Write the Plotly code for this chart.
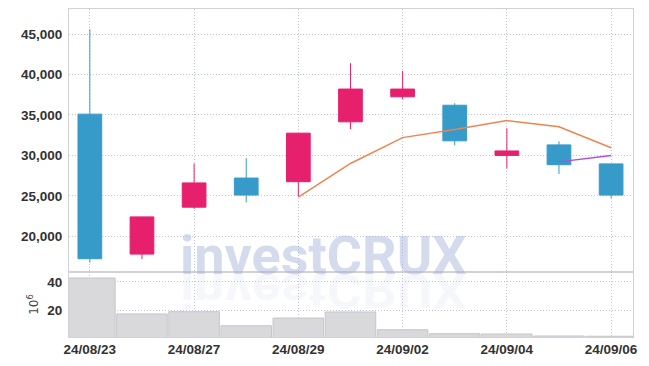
import plotly.graph_objects as go

dates = ['24/08/23', '24/08/26', '24/08/27', '24/08/28', '24/08/29', '24/08/30',
         '24/09/02', '24/09/03', '24/09/04', '24/09/05', '24/09/06']
opens = [35100, 17800, 23600, 27200, 26750, 34150, 37250, 36200, 30000, 31300, 28950]
highs = [45600, 22400, 29000, 29650, 32750, 41400, 40450, 36450, 33350, 31750, 28950]
lows = [16750, 17200, 23400, 24200, 24900, 33250, 36950, 31250, 28400, 27700, 24700]
closes = [17230, 22400, 26600, 25100, 32750, 38200, 38200, 31800, 30550, 28850, 25100]
ma5 = [None, None, None, None, 24850, 29000, 32200, 33200, 34300, 33550, 30950]
ma10 = [None, None, None, None, None, None, None, None, None, 29200, 29980]
volume_m = [42.8, 17.5, 19.1, 9.2, 14.6, 18.9, 6.4, 3.6, 3.4, 2.0, 1.8]
price_ticks = [20000, 25000, 30000, 35000, 40000, 45000]
volume_ticks = [20, 40]
date_ticks = ['24/08/23', '24/08/27', '24/08/29', '24/09/02', '24/09/04', '24/09/06']

UP = '#E7206D'
DOWN = '#379BC9'
GRID = '#BFC6DC'
BORDER = '#D2D2D6'
TICKFONT = dict(family='Liberation Sans, Arial, sans-serif', size=13.5, weight='bold',
                color='#333333')

fig = go.Figure()
fig.add_trace(go.Candlestick(
    x=dates, open=opens, high=highs, low=lows, close=closes,
    xaxis='x', yaxis='y',
    increasing=dict(line=dict(color=UP, width=1), fillcolor=UP),
    decreasing=dict(line=dict(color=DOWN, width=1), fillcolor=DOWN),
    whiskerwidth=0, showlegend=False, name='price'))
fig.add_trace(go.Scatter(x=dates, y=ma5, mode='lines', xaxis='x', yaxis='y',
                         line=dict(color='#EC8550', width=1.5), showlegend=False))
fig.add_trace(go.Scatter(x=dates, y=ma10, mode='lines', xaxis='x', yaxis='y',
                         line=dict(color='#B44BE1', width=1.5), showlegend=False))
fig.add_trace(go.Bar(x=dates, y=volume_m, xaxis='x2', yaxis='y2',
                     marker=dict(color='#D9D9DC', line=dict(color='#C6C6CB', width=1)),
                     showlegend=False))

axis_common = dict(showgrid=True, griddash='1px,2px', gridcolor=GRID, gridwidth=1,
                   showline=True, mirror=True, linecolor=BORDER, linewidth=1,
                   zeroline=False, ticks='', tickfont=TICKFONT)

fig.update_layout(
    width=649, height=366,
    margin=dict(l=61, r=24, t=1, b=37),
    paper_bgcolor='white', plot_bgcolor='white',
    boxgap=0.35, bargap=0.03,
    xaxis=dict(axis_common, type='category', anchor='y', domain=[0, 1],
               range=[-0.4, 10.42], tickvals=date_ticks, showticklabels=False,
               matches='x2', rangeslider=dict(visible=False)),
    yaxis=dict(axis_common, domain=[0.198, 1], range=[15582, 48094],
               tickvals=price_ticks, tickformat=',', ticklabelstandoff=3),
    xaxis2=dict(axis_common, type='category', anchor='y2', domain=[0, 1],
                range=[-0.4, 10.42], tickvals=date_ticks, ticklabelstandoff=0),
    yaxis2=dict(axis_common, domain=[0, 0.198], range=[1.27, 47],
                tickvals=volume_ticks, ticklabelstandoff=3,
                title=dict(text='10<sup>6</sup>', standoff=6,
                           font=dict(family='DejaVu Sans', size=12, color='#444'))),
    annotations=[dict(text='<b>investCRUX</b>', xref='paper', yref='paper',
                      x=0.452, y=0.198, xanchor='center', yanchor='bottom', yshift=-17,
                      showarrow=False,
                      font=dict(family='Roboto', size=54, weight='bold',
                                color='rgba(160,176,214,0.45)'))],
)

post = """
var gd = document.getElementById('{plot_id}');
var ts = gd.querySelectorAll('.annotation-text');
ts.forEach(function(t){
  if (t.textContent === 'investCRUX') {
    var b = t.getStartPositionOfChar(0).y;
    var c = t.cloneNode(true);
    c.style.fill = 'rgba(160,176,214,0.22)';
    var s = 0.9;
    var old = c.getAttribute('transform') || '';
    c.setAttribute('transform', old + ' translate(0,' + ((1+s)*b) + ') scale(1,' + (-s) + ')');
    t.parentNode.insertBefore(c, t);
  }
});
"""

fig.write_html('out.html', post_script=post)
